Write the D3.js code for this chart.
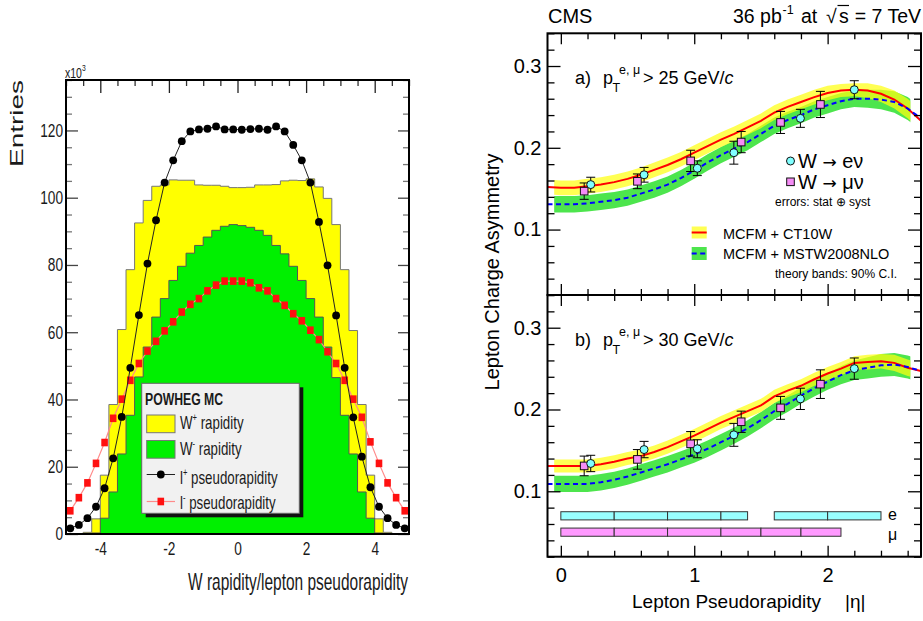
<!DOCTYPE html>
<html>
<head>
<meta charset="utf-8">
<script src="https://cdn.jsdelivr.net/npm/d3@7"></script>
<style>
  body { margin: 0; background: #fff; }
  svg { display: block; font-family: "Liberation Sans", Arial, Helvetica, sans-serif; }
</style>
</head>
<body>
<svg id="fig" width="923" height="621"></svg>
<script>
// ---------- left: POWHEG MC rapidity histograms (x10^3 entries, 0.25 wide bins from -5) ----------
var binLo = -5, binW = 0.25;
var wPlus = [0, 0, 0.5, 4.5, 17.5, 38.5, 60.8, 78.6, 92.5, 99.2,
             103.4, 103.8, 105.3, 105.2, 105.2, 103.8, 103.7, 103.7, 103.4, 103.0,
             103.0, 103.1, 103.8, 103.8, 103.9, 105.0, 105.2, 105.1, 105.6, 103.2,
             99.8, 92.0, 78.6, 60.5, 38.5, 17.5, 4.5, 0.5, 0, 0];
var wMinus = [0, 0, 0, 0.3, 4.7, 12.5, 23.8, 35.3, 46.7, 55.6,
              64.5, 70.0, 75.4, 79.6, 83.5, 85.8, 88.3, 90.3, 91.5, 92.0,
              91.7, 91.2, 90.3, 88.8, 85.8, 83.3, 79.6, 75.4, 70.0, 64.5,
              55.6, 46.5, 35.3, 23.8, 12.5, 4.7, 0.3, 0, 0, 0];
var lPlus = [1.7, 2.7, 4.7, 8.1, 13.6, 22.5, 34.8, 49.4, 65.1, 80.4,
             93.3, 104.5, 111.1, 116.8, 119.7, 120.3, 120.5, 121.2, 120.3, 120.3,
             120.2, 120.4, 120.5, 120.2, 121.2, 119.7, 115.7, 111.1, 104.5, 92.8,
             79.9, 65.0, 49.4, 34.7, 23.0, 13.9, 8.1, 4.7, 2.7, 1.7];
var lMinus = [6.9, 10.8, 15.2, 21.0, 27.2, 34.4, 40.1, 45.7, 50.7, 54.4,
              57.3, 60.4, 63.1, 66.0, 68.3, 70.0, 72.3, 74.0, 75.2, 75.2,
              75.2, 74.7, 73.2, 72.3, 70.0, 68.0, 65.5, 63.4, 60.6, 57.8,
              54.2, 50.7, 45.7, 40.1, 34.7, 27.4, 21.0, 15.2, 10.8, 6.9];
var leftXTicks = [-4, -2, 0, 2, 4];
var leftYTicks = [0, 20, 40, 60, 80, 100, 120];

// ---------- right: CMS lepton charge asymmetry ----------
var etaGrid = [-0.1, 0, 0.1, 0.2, 0.3, 0.4, 0.5, 0.6, 0.7, 0.8, 0.9, 1.0, 1.1, 1.2, 1.3,
               1.4, 1.5, 1.6, 1.7, 1.8, 1.9, 2.0, 2.1, 2.2, 2.3, 2.4, 2.5, 2.6, 2.7];
var ct10A = [0.152, 0.151, 0.151, 0.153, 0.155, 0.158, 0.162, 0.167, 0.173, 0.179, 0.186, 0.194, 0.202, 0.210, 0.217,
             0.225, 0.233, 0.243, 0.250, 0.256, 0.262, 0.267, 0.270, 0.271, 0.270, 0.266, 0.259, 0.248, 0.233];
var ct10HalfA = [0.009, 0.009, 0.009, 0.009, 0.009, 0.009, 0.009, 0.009, 0.009, 0.009, 0.009, 0.009, 0.009, 0.009, 0.009,
                 0.009, 0.009, 0.009, 0.009, 0.009, 0.009, 0.009, 0.008, 0.008, 0.009, 0.010, 0.011, 0.012, 0.012];
var mstwA = [0.131, 0.131, 0.131, 0.132, 0.134, 0.136, 0.139, 0.144, 0.149, 0.155, 0.163, 0.172, 0.182, 0.191, 0.199,
             0.207, 0.217, 0.227, 0.234, 0.240, 0.247, 0.252, 0.257, 0.260, 0.260, 0.259, 0.256, 0.248, 0.236];
var mstwHalfA = [0.010, 0.010, 0.010, 0.010, 0.010, 0.010, 0.010, 0.010, 0.010, 0.010, 0.010, 0.010, 0.010, 0.010, 0.010,
                 0.010, 0.010, 0.010, 0.010, 0.010, 0.010, 0.010, 0.010, 0.010, 0.011, 0.012, 0.013, 0.014, 0.014];
var ct10B = [0.131, 0.131, 0.131, 0.131, 0.133, 0.136, 0.140, 0.143, 0.148, 0.154, 0.161, 0.168, 0.176, 0.184, 0.191,
             0.198, 0.205, 0.216, 0.223, 0.229, 0.237, 0.244, 0.250, 0.257, 0.258, 0.259, 0.257, 0.251, 0.247];
var ct10HalfB = [0.008, 0.008, 0.008, 0.008, 0.008, 0.008, 0.008, 0.008, 0.008, 0.008, 0.008, 0.008, 0.008, 0.008, 0.008,
                 0.008, 0.008, 0.008, 0.008, 0.008, 0.008, 0.008, 0.008, 0.008, 0.009, 0.009, 0.010, 0.010, 0.010];
var mstwB = [0.109, 0.109, 0.109, 0.109, 0.111, 0.114, 0.118, 0.123, 0.128, 0.133, 0.139, 0.145, 0.152, 0.160, 0.168,
             0.177, 0.187, 0.198, 0.207, 0.217, 0.226, 0.234, 0.242, 0.248, 0.251, 0.254, 0.255, 0.252, 0.247];
var mstwHalfB = [0.010, 0.010, 0.010, 0.010, 0.010, 0.010, 0.010, 0.010, 0.010, 0.010, 0.010, 0.010, 0.010, 0.010, 0.010,
                 0.010, 0.010, 0.010, 0.010, 0.010, 0.010, 0.010, 0.011, 0.012, 0.013, 0.014, 0.014, 0.014, 0.014];

var elecEta = [0.224, 0.624, 1.023, 1.297, 1.796, 2.2];
var muEta = [0.175, 0.574, 0.973, 1.352, 1.647, 1.946];
var elecA = [0.155, 0.167, 0.175, 0.194, 0.236, 0.271];
var elecErrA = [0.009, 0.009, 0.009, 0.014, 0.011, 0.011];
var muA = [0.147, 0.159, 0.184, 0.207, 0.231, 0.253];
var muErrA = [0.010, 0.009, 0.013, 0.013, 0.0135, 0.016];
var elecB = [0.134, 0.151, 0.152, 0.169, 0.213, 0.250];
var elecErrB = [0.010, 0.010, 0.011, 0.014, 0.013, 0.013];
var muB = [0.131, 0.139, 0.158, 0.185, 0.202, 0.231];
var muErrB = [0.012, 0.012, 0.015, 0.013, 0.014, 0.0175];

// bin boundaries of the measurement (electron has a gap 1.4-1.6)
var elecBinEdges = [[0, 0.4, 0.8, 1.2, 1.4], [1.6, 2.0, 2.4]];
var muBinEdges = [[0, 0.4, 0.8, 1.2, 1.5, 1.8, 2.1]];

var svg = d3.select("#fig");

// =============================== LEFT PANEL ===============================
var xL = d3.scaleLinear().domain([-5, 5]).range([66, 409]);
var yL = d3.scaleLinear().domain([0, 135]).range([534, 80]);
var left = svg.append("g");

var edges = wPlus.map((v, i) => binLo + i * binW);
var centers = edges.map(e => e + binW / 2);

function histPts(vals) {
  var p = vals.map((v, i) => [edges[i], v]);
  p.push([binLo + vals.length * binW, vals[vals.length - 1]]);
  return p;
}
var histArea = d3.area().x(d => xL(d[0])).y0(yL(0)).y1(d => yL(d[1])).curve(d3.curveStepAfter);
var histLine = d3.line().x(d => xL(d[0])).y(d => yL(d[1])).curve(d3.curveStepAfter);

left.append("path").attr("d", histArea(histPts(wPlus))).attr("fill", "#ffff00");
left.append("path").attr("d", histLine(histPts(wPlus))).attr("fill", "none").attr("stroke", "#777").attr("stroke-width", 1);
left.append("path").attr("d", histArea(histPts(wMinus))).attr("fill", "#00f000");
left.append("path").attr("d", histLine(histPts(wMinus))).attr("fill", "none").attr("stroke", "#555").attr("stroke-width", 1);

var ptLine = d3.line().x((d, i) => xL(centers[i])).y(d => yL(d));
left.append("path").attr("d", ptLine(lMinus)).attr("fill", "none").attr("stroke", "#ff8a8a").attr("stroke-width", 1.2);
left.selectAll(".lm").data(lMinus).enter().append("rect")
  .attr("x", (d, i) => xL(centers[i]) - 3.3).attr("y", d => yL(d) - 3.8)
  .attr("width", 6.6).attr("height", 7.6).attr("fill", "#ff1010");
left.append("path").attr("d", ptLine(lPlus)).attr("fill", "none").attr("stroke", "#222").attr("stroke-width", 1);
left.selectAll(".lp").data(lPlus).enter().append("circle")
  .attr("cx", (d, i) => xL(centers[i])).attr("cy", d => yL(d)).attr("r", 3.9).attr("fill", "#000");

// condensed text helper (the left figure uses a narrow font)
function narrow(g, x, y, size, sx) {
  return g.append("g").attr("transform", `translate(${x},${y}) scale(${sx},1)`)
    .append("text").attr("font-size", size).attr("fill", "#1a1a1a");
}

// legend
var lg = left.append("g");
lg.append("rect").attr("x", 145.7).attr("y", 387.3).attr("width", 157.6).attr("height", 130).attr("fill", "#111");
lg.append("rect").attr("x", 141.7).attr("y", 383.3).attr("width", 157.6).attr("height", 130)
  .attr("fill", "#f1f1f1").attr("stroke", "#666").attr("stroke-width", 1);
narrow(lg, 145, 405, 17, 0.72).attr("font-weight", "bold").text("POWHEG MC");
lg.append("rect").attr("x", 146.7).attr("y", 415).attr("width", 28.3).attr("height", 17.7)
  .attr("fill", "#ffff00").attr("stroke", "#777");
lg.append("rect").attr("x", 146.7).attr("y", 440.5).attr("width", 28.3).attr("height", 17.7)
  .attr("fill", "#00f000").attr("stroke", "#777");
lg.append("line").attr("x1", 146.7).attr("x2", 175).attr("y1", 474.5).attr("y2", 474.5).attr("stroke", "#222");
lg.append("circle").attr("cx", 160.8).attr("cy", 474.5).attr("r", 3.9).attr("fill", "#000");
lg.append("line").attr("x1", 146.7).attr("x2", 175).attr("y1", 501.5).attr("y2", 501.5).attr("stroke", "#ff8a8a").attr("stroke-width", 1.2);
lg.append("rect").attr("x", 157.5).attr("y", 497.7).attr("width", 6.6).attr("height", 7.6).attr("fill", "#ff1010");

function legText(y, base, sup, rest) {
  var t = narrow(lg, 180, y, 17.5, 0.76);
  t.append("tspan").text(base);
  t.append("tspan").attr("font-size", 10).attr("dy", -8).text(sup);
  t.append("tspan").attr("dy", 8).text(" " + rest);
}
legText(428.5, "W", "+", "rapidity");
legText(455, "W", "-", "rapidity");
legText(483.5, "l", "+", "pseudorapidity");
legText(508.5, "l", "-", "pseudorapidity");

// axes of the left frame
function styleAxis(g, col) {
  g.select(".domain").remove();
  g.selectAll("line").attr("stroke", col).attr("stroke-width", 1.3);
}
var yMinorL = d3.range(0, 136, 5).filter(v => v % 20 !== 0);
var xMinorL = d3.range(-5, 5.01, 0.5).filter(v => v % 2 !== 0);

left.append("g").attr("transform", "translate(66,0)")
  .call(d3.axisLeft(yL).tickValues(leftYTicks).tickSizeInner(-12).tickSizeOuter(0).tickPadding(4).tickFormat(d => d))
  .call(g => styleAxis(g, "#444"))
  .call(g => g.selectAll("text").attr("font-size", 18.5).attr("fill", "#1a1a1a")
    .attr("font-family", "Liberation Sans, Arial, sans-serif").attr("transform", "scale(0.74,1)"));
left.append("g").attr("transform", "translate(66,0)")
  .call(d3.axisLeft(yL).tickValues(yMinorL).tickSizeInner(-6).tickSizeOuter(0).tickFormat(""))
  .call(g => styleAxis(g, "#777"));
left.append("g").attr("transform", "translate(409,0)")
  .call(d3.axisRight(yL).tickValues(leftYTicks).tickSizeInner(-11).tickSizeOuter(0).tickFormat(""))
  .call(g => styleAxis(g, "#444"));
left.append("g").attr("transform", "translate(409,0)")
  .call(d3.axisRight(yL).tickValues(yMinorL).tickSizeInner(-6).tickSizeOuter(0).tickFormat(""))
  .call(g => styleAxis(g, "#777"));
left.append("g").attr("transform", "translate(0,80)")
  .call(d3.axisTop(xL).tickValues(leftXTicks).tickSizeInner(-13).tickSizeOuter(0).tickFormat(""))
  .call(g => styleAxis(g, "#222"));
left.append("g").attr("transform", "translate(0,80)")
  .call(d3.axisTop(xL).tickValues(xMinorL).tickSizeInner(-6).tickSizeOuter(0).tickFormat(""))
  .call(g => styleAxis(g, "#333"));
left.append("g").attr("transform", "translate(0,534)")
  .call(d3.axisBottom(xL).tickValues(leftXTicks).tickSize(0).tickPadding(8).tickFormat(d => d))
  .call(g => g.select(".domain").remove())
  .call(g => g.selectAll("text").attr("font-size", 18.5).attr("fill", "#1a1a1a")
    .attr("font-family", "Liberation Sans, Arial, sans-serif").attr("transform", "scale(0.74,1)"));

left.append("rect").attr("x", 66).attr("y", 80).attr("width", 343).attr("height", 454)
  .attr("fill", "none").attr("stroke", "#000").attr("stroke-width", 2);

var e3 = narrow(left, 65, 78, 14, 0.75);
e3.append("tspan").text("x10");
e3.append("tspan").attr("font-size", 9).attr("dy", -7).text("3");

left.append("text").attr("transform", "translate(23,123.5) rotate(-90)")
  .attr("text-anchor", "middle").attr("font-size", 18).attr("fill", "#1a1a1a")
  .attr("textLength", 87).attr("lengthAdjust", "spacingAndGlyphs").text("Entries");
left.append("text").attr("x", 188).attr("y", 590).attr("font-size", 24).attr("fill", "#1a1a1a")
  .attr("textLength", 220).attr("lengthAdjust", "spacingAndGlyphs").text("W rapidity/lepton pseudorapidity");

// =============================== RIGHT PANELS ===============================
var xR = d3.scaleLinear().domain([-0.1, 2.7]).range([547.5, 921]);
var yA = d3.scaleLinear().domain([0.02, 0.34]).range([295, 33.3]);
var yB = d3.scaleLinear().domain([0.02, 0.34]).range([556.7, 295]);
var defs = svg.append("defs");

function drawPanel(id, y, ct10, ct10Half, mstw, mstwHalf, elec, elecErr, mu, muErr, showXLabels) {
  var top = y.range()[1], bot = y.range()[0];
  var g = svg.append("g");
  defs.append("clipPath").attr("id", "band" + id).append("rect")
    .attr("x", xR(-0.05)).attr("y", top).attr("width", xR(2.62) - xR(-0.05)).attr("height", bot - top);
  defs.append("clipPath").attr("id", "frame" + id).append("rect")
    .attr("x", xR(-0.1)).attr("y", top).attr("width", xR(2.7) - xR(-0.1)).attr("height", bot - top);

  var band = (c, h) => d3.area().x((d, i) => xR(etaGrid[i])).y0((d, i) => y(c[i] - h[i])).y1((d, i) => y(c[i] + h[i]))(c);
  var curve = c => d3.line().x((d, i) => xR(etaGrid[i])).y(d => y(d))(c);

  var bands = g.append("g").attr("clip-path", `url(#band${id})`);
  bands.append("path").attr("d", band(mstw, mstwHalf)).attr("fill", "#2ee02e").attr("opacity", 0.85);
  bands.append("path").attr("d", band(ct10, ct10Half)).attr("fill", "#ffff10").attr("opacity", 0.72);
  var lines = g.append("g").attr("clip-path", `url(#frame${id})`);
  lines.append("path").attr("d", curve(ct10)).attr("fill", "none").attr("stroke", "#ff0000").attr("stroke-width", 2);
  lines.append("path").attr("d", curve(mstw)).attr("fill", "none").attr("stroke", "#0000ff")
    .attr("stroke-width", 2).attr("stroke-dasharray", "5,3.5");

  function errBars(eta, val, err) {
    eta.forEach((e, i) => {
      var x = xR(e);
      g.append("line").attr("x1", x).attr("x2", x).attr("y1", y(val[i] - err[i])).attr("y2", y(val[i] + err[i])).attr("stroke", "#000");
      [val[i] - err[i], val[i] + err[i]].forEach(v => {
        g.append("line").attr("x1", x - 4.5).attr("x2", x + 4.5).attr("y1", y(v)).attr("y2", y(v)).attr("stroke", "#000");
      });
    });
  }
  errBars(elecEta, elec, elecErr);
  errBars(muEta, mu, muErr);
  g.selectAll(".mu").data(mu).enter().append("rect")
    .attr("x", (d, i) => xR(muEta[i]) - 3.8).attr("y", d => y(d) - 3.8).attr("width", 7.6).attr("height", 7.6)
    .attr("fill", "#f58cf5").attr("stroke", "#111").attr("stroke-width", 1);
  g.selectAll(".el").data(elec).enter().append("circle")
    .attr("cx", (d, i) => xR(elecEta[i])).attr("cy", d => y(d)).attr("r", 4)
    .attr("fill", "#80ffff").attr("stroke", "#111").attr("stroke-width", 1);

  // ticks
  var majY = [0.1, 0.2, 0.3];
  var minY = d3.range(0.02, 0.341, 0.02).filter(v => Math.abs(v * 10 - Math.round(v * 10)) > 1e-6);
  var majX = [0, 1, 2];
  var minX = d3.range(0, 2.7, 0.2).filter(v => Math.abs(v - Math.round(v)) > 1e-6);
  g.append("g").attr("transform", `translate(${xR(-0.1)},0)`)
    .call(d3.axisLeft(y).tickValues(majY).tickSizeInner(-13).tickSizeOuter(0).tickPadding(6).tickFormat(d3.format(".1f")))
    .call(a => styleAxis(a, "#000"))
    .call(a => a.selectAll("text").attr("font-size", 20).attr("fill", "#000").attr("font-family", "Liberation Sans, Arial, sans-serif"));
  g.append("g").attr("transform", `translate(${xR(-0.1)},0)`)
    .call(d3.axisLeft(y).tickValues(minY).tickSizeInner(-7).tickSizeOuter(0).tickFormat(""))
    .call(a => styleAxis(a, "#000"));
  g.append("g").attr("transform", `translate(${xR(2.7)},0)`)
    .call(d3.axisRight(y).tickValues(majY).tickSizeInner(-13).tickSizeOuter(0).tickFormat(""))
    .call(a => styleAxis(a, "#000"));
  g.append("g").attr("transform", `translate(${xR(2.7)},0)`)
    .call(d3.axisRight(y).tickValues(minY).tickSizeInner(-7).tickSizeOuter(0).tickFormat(""))
    .call(a => styleAxis(a, "#000"));
  g.append("g").attr("transform", `translate(0,${top})`)
    .call(d3.axisTop(xR).tickValues(majX).tickSizeInner(-11).tickSizeOuter(0).tickFormat(""))
    .call(a => styleAxis(a, "#000"));
  g.append("g").attr("transform", `translate(0,${top})`)
    .call(d3.axisTop(xR).tickValues(minX).tickSizeInner(-6).tickSizeOuter(0).tickFormat(""))
    .call(a => styleAxis(a, "#000"));
  g.append("g").attr("transform", `translate(0,${bot})`)
    .call(d3.axisBottom(xR).tickValues(majX).tickSizeInner(-11).tickSizeOuter(0).tickPadding(11)
      .tickFormat(showXLabels ? d3.format("d") : ""))
    .call(a => styleAxis(a, "#000"))
    .call(a => a.selectAll("text").attr("font-size", 20).attr("fill", "#000").attr("font-family", "Liberation Sans, Arial, sans-serif"));
  g.append("g").attr("transform", `translate(0,${bot})`)
    .call(d3.axisBottom(xR).tickValues(minX).tickSizeInner(-6).tickSizeOuter(0).tickFormat(""))
    .call(a => styleAxis(a, "#000"));

  g.append("rect").attr("x", xR(-0.1)).attr("y", top).attr("width", xR(2.7) - xR(-0.1)).attr("height", bot - top)
    .attr("fill", "none").attr("stroke", "#000").attr("stroke-width", 2);

  // panel label
  var base = y(0.3) + 18.3;
  g.append("text").attr("x", 575).attr("y", base).attr("font-size", 18).text(id === "A" ? "a)" : "b)");
  g.append("text").attr("x", 603).attr("y", base).attr("font-size", 18).text("p");
  g.append("text").attr("x", 612.5).attr("y", base + 8).attr("font-size", 12.5).text("T");
  g.append("text").attr("x", 619).attr("y", base - 10).attr("font-size", 12.5).text("e, \u03bc");
  var cut = g.append("text").attr("x", 643).attr("y", base).attr("font-size", 18);
  cut.append("tspan").text(id === "A" ? "> 25 GeV/" : "> 30 GeV/");
  cut.append("tspan").attr("font-style", "italic").text("c");
  return g;
}

var pA = drawPanel("A", yA, ct10A, ct10HalfA, mstwA, mstwHalfA, elecA, elecErrA, muA, muErrA, false);
var pB = drawPanel("B", yB, ct10B, ct10HalfB, mstwB, mstwHalfB, elecB, elecErrB, muB, muErrB, true);

// legends in panel a
function arrowLabel(x, y, end) {
  var t = pA.append("text").attr("x", x).attr("y", y).attr("font-size", 20);
  t.append("tspan").text("W ");
  t.append("tspan").attr("font-family", "DejaVu Sans").attr("font-size", 17).text("\u2192");
  t.append("tspan").text(" " + end);
}
pA.append("circle").attr("cx", 790.5).attr("cy", 161).attr("r", 4).attr("fill", "#80ffff").attr("stroke", "#111");
arrowLabel(798, 168, "e\u03bd");
pA.append("rect").attr("x", 786.7).attr("y", 178).attr("width", 7.6).attr("height", 7.6)
  .attr("fill", "#f58cf5").attr("stroke", "#111");
arrowLabel(798, 188.5, "\u03bc\u03bd");
pA.append("text").attr("x", 775).attr("y", 206).attr("font-size", 12).text("errors: stat \u2295 syst");

pA.append("rect").attr("x", 691.7).attr("y", 226.5).attr("width", 15).attr("height", 12)
  .attr("fill", "#ffff10").attr("opacity", 0.72);
pA.append("line").attr("x1", 691.7).attr("x2", 706.7).attr("y1", 232.5).attr("y2", 232.5).attr("stroke", "#ff0000").attr("stroke-width", 2);
pA.append("text").attr("x", 723).attr("y", 238.5).attr("font-size", 14.5).text("MCFM + CT10W");
pA.append("rect").attr("x", 691.7).attr("y", 247).attr("width", 15).attr("height", 13)
  .attr("fill", "#2ee02e").attr("opacity", 0.85);
pA.append("line").attr("x1", 691.7).attr("x2", 706.7).attr("y1", 253.5).attr("y2", 253.5).attr("stroke", "#0000ff")
  .attr("stroke-width", 2).attr("stroke-dasharray", "5,3.5");
pA.append("text").attr("x", 723).attr("y", 259).attr("font-size", 14.5).text("MCFM + MSTW2008NLO");
pA.append("text").attr("x", 775).attr("y", 278).attr("font-size", 12).text("theory bands: 90% C.I.");

// bin bars in panel b
function binBar(edgesList, level, fill) {
  edgesList.forEach(ed => {
    d3.pairs(ed).forEach(p => {
      pB.append("rect").attr("x", xR(p[0])).attr("y", yB(level + 0.005)).attr("width", xR(p[1]) - xR(p[0]))
        .attr("height", yB(level - 0.005) - yB(level + 0.005)).attr("fill", fill).attr("stroke", "#333").attr("stroke-width", 1);
    });
  });
}
binBar(elecBinEdges, 0.07, "#99ffff");
binBar(muBinEdges, 0.05, "#ff99ff");
pB.append("text").attr("x", 888).attr("y", 520).attr("font-size", 16).text("e");
pB.append("text").attr("x", 888).attr("y", 539.5).attr("font-size", 16).text("\u03bc");

// header and axis titles
svg.append("text").attr("x", 548).attr("y", 23).attr("font-size", 20).text("CMS");
svg.append("text").attr("x", 733).attr("y", 23).attr("font-size", 19.5).text("36 pb");
svg.append("text").attr("x", 782.5).attr("y", 14).attr("font-size", 12.5).text("-1");
svg.append("text").attr("x", 801).attr("y", 23).attr("font-size", 19.5).text("at");
svg.append("text").attr("x", 826).attr("y", 23).attr("font-size", 19.5).text("\u221a");
svg.append("line").attr("x1", 837.5).attr("x2", 849).attr("y1", 5.5).attr("y2", 5.5).attr("stroke", "#000").attr("stroke-width", 1.2);
svg.append("text").attr("x", 839).attr("y", 23).attr("font-size", 19.5).text("s");
svg.append("text").attr("x", 921).attr("y", 23).attr("font-size", 19.5).attr("text-anchor", "end").text("= 7 TeV");

svg.append("text").attr("transform", "translate(499,272) rotate(-90)").attr("text-anchor", "middle")
  .attr("font-size", 20).text("Lepton Charge Asymmetry");
svg.append("text").attr("x", 632).attr("y", 608).attr("font-size", 19).text("Lepton Pseudorapidity");
svg.append("text").attr("x", 845).attr("y", 608).attr("font-size", 19).text("|\u03b7|");
</script>
</body>
</html>
